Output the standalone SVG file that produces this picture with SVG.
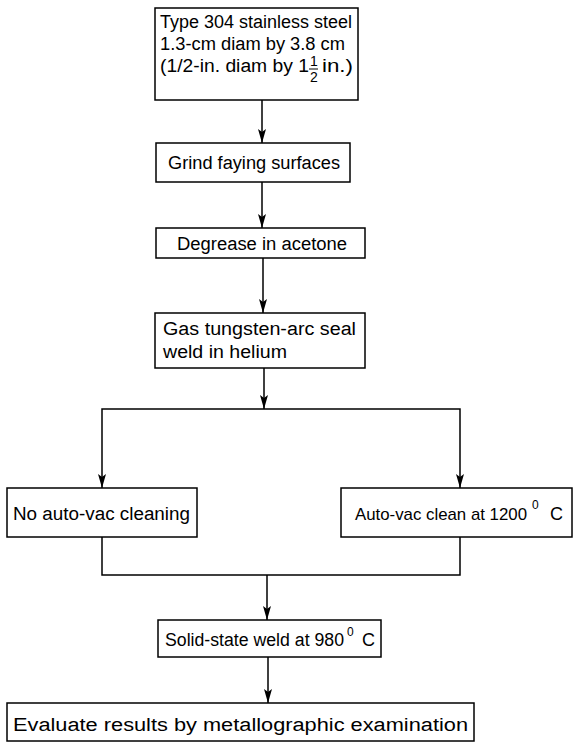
<svg xmlns="http://www.w3.org/2000/svg" width="577" height="743" viewBox="0 0 577 743">
<style>
.box{fill:#fff;stroke:#000;stroke-width:1.5}
.t{font-family:"Liberation Sans",Arial,sans-serif;font-size:18px;fill:#000}
.s{font-size:12px}
.f{font-size:14px}
.c{fill:none;stroke:#000;stroke-width:1.5}
</style>
<defs>
<marker id="ah" markerWidth="14" markerHeight="8" refX="14" refY="4" orient="auto-start-reverse" markerUnits="userSpaceOnUse" viewBox="0 0 14 8">
<path d="M0,0 L14,4 L0,8 L3,4 Z" fill="#000"/>
</marker>
</defs>
<rect width="577" height="743" fill="#fff"/>
<g id="connectors">
<line class="c" x1="262" y1="100" x2="262" y2="143" marker-end="url(#ah)"/>
<line class="c" x1="262" y1="182" x2="262" y2="228" marker-end="url(#ah)"/>
<line class="c" x1="263" y1="258" x2="263" y2="313" marker-end="url(#ah)"/>
<line class="c" x1="264" y1="368" x2="264" y2="409" marker-end="url(#ah)"/>
<polyline class="c" points="102,488 102,409 460,409 460,488" marker-start="url(#ah)" marker-end="url(#ah)"/>
<polyline class="c" points="102,537 102,575 460,575 460,537"/>
<line class="c" x1="267" y1="575" x2="267" y2="620" marker-end="url(#ah)"/>
<line class="c" x1="268" y1="657" x2="268" y2="703" marker-end="url(#ah)"/>
</g>
<g id="n1">
<rect class="box" x="155" y="8" width="203" height="92"/>
<text class="t" x="160" y="28" textLength="192" lengthAdjust="spacingAndGlyphs">Type 304 stainless steel</text>
<text class="t" x="160" y="50" textLength="185" lengthAdjust="spacingAndGlyphs">1.3-cm diam by 3.8 cm</text>
<text class="t" x="160" y="72" textLength="149" lengthAdjust="spacingAndGlyphs">(1/2-in. diam by 1</text>
<text class="t f" x="310" y="66">1</text>
<line x1="309" y1="69" x2="318" y2="69" stroke="#000" stroke-width="1"/>
<text class="t f" x="310" y="82">2</text>
<text class="t" x="322" y="72" textLength="31" lengthAdjust="spacingAndGlyphs">in.)</text>
</g>
<g id="n2">
<rect class="box" x="156" y="143" width="194" height="39"/>
<text class="t" x="168" y="169" textLength="172" lengthAdjust="spacingAndGlyphs">Grind faying surfaces</text>
</g>
<g id="n3">
<rect class="box" x="156" y="228" width="209" height="30"/>
<text class="t" x="177" y="250" textLength="170" lengthAdjust="spacingAndGlyphs">Degrease in acetone</text>
</g>
<g id="n4">
<rect class="box" x="155" y="313" width="210" height="55"/>
<text class="t" x="163" y="335" textLength="193" lengthAdjust="spacingAndGlyphs">Gas tungsten-arc seal</text>
<text class="t" x="163" y="358" textLength="124" lengthAdjust="spacingAndGlyphs">weld in helium</text>
</g>
<g id="n5">
<rect class="box" x="7" y="488" width="190" height="49"/>
<text class="t" x="13" y="520" textLength="177" lengthAdjust="spacingAndGlyphs">No auto-vac cleaning</text>
</g>
<g id="n6">
<rect class="box" x="341" y="488" width="231" height="49"/>
<text class="t" x="355" y="520" style="font-size:17px" textLength="172" lengthAdjust="spacingAndGlyphs">Auto-vac clean at 1200</text>
<text class="t s" x="532" y="509">0</text>
<text class="t" x="550" y="520">C</text>
</g>
<g id="n7">
<rect class="box" x="158" y="620" width="223" height="37"/>
<text class="t" x="165" y="646" textLength="179" lengthAdjust="spacingAndGlyphs">Solid-state weld at 980</text>
<text class="t s" x="347" y="636">0</text>
<text class="t" x="362" y="646">C</text>
</g>
<g id="n8">
<rect class="box" x="7" y="703" width="467" height="38"/>
<text class="t" x="13" y="731" textLength="455" lengthAdjust="spacingAndGlyphs">Evaluate results by metallographic examination</text>
</g>
</svg>
